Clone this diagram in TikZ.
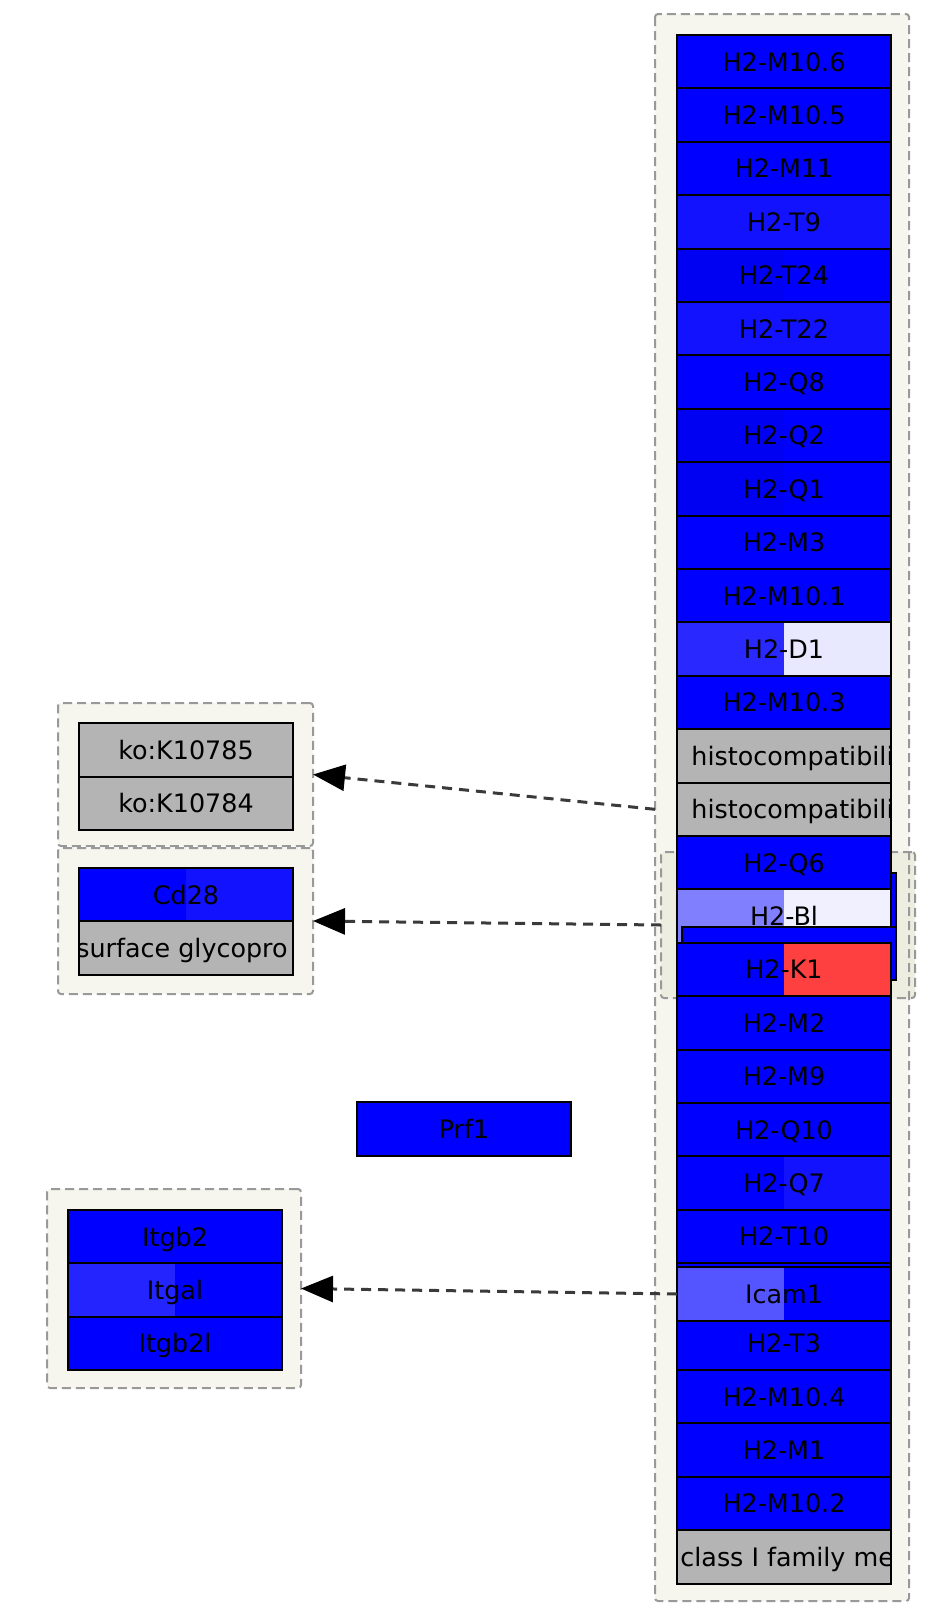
\documentclass[tikz,border=0pt]{standalone}
\usepackage{fontspec}
\setmainfont{DejaVu Sans}
\usetikzlibrary{arrows.meta}

\definecolor{hb}{HTML}{0000FF}
\definecolor{hbb}{HTML}{1212FF}
\definecolor{hbd}{HTML}{0000F2}
\definecolor{gry}{HTML}{B4B4B4}
\definecolor{dleft}{HTML}{2828FF}
\definecolor{dright}{HTML}{E8E8FF}
\definecolor{blleft}{HTML}{8080FF}
\definecolor{blright}{HTML}{F0F0FF}
\definecolor{kright}{HTML}{FF4040}
\definecolor{icleft}{HTML}{5555FF}
\definecolor{itleft}{HTML}{2424FF}
\definecolor{grpbg}{HTML}{F6F6EF}
\definecolor{grpbg2}{HTML}{EEEEE0}
\definecolor{grpline}{HTML}{999999}
\definecolor{relline}{HTML}{3A3A3A}

\tikzset{
  grp/.style={draw=grpline, fill=grpbg, line width=1pt, dash pattern=on 4.5pt off 2.5pt,
    rounded corners=1.5pt, inner sep=0pt, outer sep=0pt},
  cell/.style={draw=black, line width=1pt, minimum width=107pt, minimum height=26.7pt,
    inner sep=0pt, outer sep=0pt, fill=hb, text height=9.3pt, text depth=0pt,
    font=\fontsize{12.7}{15}\selectfont},
  split/.style 2 args={fill=#2, path picture={
    \fill[#1] (path picture bounding box.south west) rectangle (path picture bounding box.north);}},
  lbl/.style={inner sep=0pt, text height=9.3pt, text depth=0pt, font=\fontsize{12.7}{15}\selectfont},
  rel/.style={draw=relline, line width=1.5pt, dash pattern=on 5pt off 3.5pt,
    -{Triangle[length=16pt,width=13pt,black]}}
}

% label too long for its cell, cut at the border
\newcommand{\cutlabel}[3]{%
  \begin{scope}
    \clip (#1.south west) rectangle (#1.north east);
    \node[lbl, anchor=west] at ([xshift=#2]#1.west) {#3};
  \end{scope}}

\begin{document}
\begin{tikzpicture}[x=0.5pt, y=-0.5pt]
  \useasboundingbox (0,0) rectangle (928,1618);

  % groups
  \node[grp, draw=none, minimum width=127pt, minimum height=793.5pt] (mhcgrp) at (782,807.5) {};
  \node[grp, fill=grpbg2, minimum width=127pt, minimum height=73pt] (blgrp) at (788,925) {};
  \draw[grp, fill=none] (mhcgrp.north west) rectangle (mhcgrp.south east);
  \node[grp, minimum width=127.5pt, minimum height=71.5pt] (kogrp) at (185.5,774.5) {};
  \node[grp, minimum width=127.5pt, minimum height=73pt] (cdgrp) at (185.5,921) {};
  \node[grp, minimum width=127pt, minimum height=99.5pt] (itggrp) at (174,1288.5) {};

  % MHC column
  \draw[fill=hb, line width=1pt] (684,873) rectangle (896,980);
  \draw[fill=hb, line width=1pt] (677,35) rectangle (891,1583);
  \foreach \n/\t/\cl/\cr [count=\k from 0] in {m106/H2-M10.6/hb/hb, m105/H2-M10.5/hb/hb,
      m11/H2-M11/hb/hb, t9/H2-T9/hbb/hbb, t24/H2-T24/hbd/hb, t22/H2-T22/hbb/hbb,
      q8/H2-Q8/hb/hb, q2/H2-Q2/hbd/hb, q1/H2-Q1/hbd/hb, m3/H2-M3/hb/hb,
      m101/H2-M10.1/hb/hb, d1/H2-D1/dleft/dright, m103/H2-M10.3/hb/hb,
      hist1//gry/gry, hist2//gry/gry, q6/H2-Q6/hb/hb, bl/H2-Bl/blleft/blright}
    \node[cell, split={\cl}{\cr}] (\n) at (784,{61.7+53.4*\k}) {\t};
  \draw[fill=hb, line width=1pt] (682,927) rectangle (896,980);
  \foreach \n/\t/\cl/\cr/\k in {k1/H2-K1/hb/kright/17, m2/H2-M2/hb/hb/18,
      m9/H2-M9/hb/hb/19, q10/H2-Q10/hb/hb/20, q7/H2-Q7/hb/hbb/21, t10/H2-T10/hb/hb/22,
      t3/H2-T3/hb/hb/24, m104/H2-M10.4/hb/hb/25, m1/H2-M1/hb/hb/26,
      m102/H2-M10.2/hb/hb/27, cls//gry/gry/28}
    \node[cell, split={\cl}{\cr}] (\n) at (784,{61.7+53.4*\k}) {\t};
  \node[cell, split={icleft}{hb}] (icam) at (784,1294) {Icam1};
  \cutlabel{hist1}{7pt}{histocompatibili}
  \cutlabel{hist2}{7pt}{histocompatibili}
  \cutlabel{cls}{1.5pt}{class I family me}

  % left side
  \node[cell, fill=gry] (ko1) at (186,750) {ko:K10785};
  \node[cell, fill=gry] (ko2) at (186,803.4) {ko:K10784};
  \node[cell, split={hb}{hbb}] (cd28) at (186,894.7) {Cd28};
  \node[cell, fill=gry] (surf) at (186,948.1) {};
  \cutlabel{surf}{-1.5pt}{surface glycopro}
  \node[cell] (prf1) at (464,1129) {Prf1};
  \node[cell] (itgb2) at (175,1236.7) {Itgb2};
  \node[cell, split={itleft}{hb}] (itgal) at (175,1290) {Itgal};
  \node[cell] (itgb2l) at (175,1343.4) {Itgb2l};

  % relations
  \draw[rel] (hist2.west -| mhcgrp.west) -- (kogrp.east);
  \draw[rel] (blgrp.west) -- (cdgrp.east);
  \draw[rel] (icam.west) -- (itggrp.east);
\end{tikzpicture}
\end{document}
